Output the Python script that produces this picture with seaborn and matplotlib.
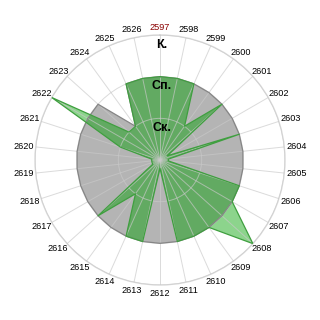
import numpy as np
import pandas as pd
import matplotlib
matplotlib.use('Agg')
import matplotlib.pyplot as plt
import seaborn as sns

categories = ['2597', '2598', '2599', '2600', '2601', '2602', '2603', '2604', '2605', '2606',
              '2607', '2608', '2609', '2610', '2611', '2612', '2613', '2614', '2615', '2616',
              '2617', '2618', '2619', '2620', '2621', '2622', '2623', '2624', '2625', '2626']
gray_values = [2, 2, 2, 2, 2, 2, 2, 2, 2, 2,
               2, 2, 2, 2, 2, 2, 2, 2, 2, 2,
               2, 2, 2, 2, 2, 2, 2, 1, 2, 2]
green_values = [2, 2, 2, 1, 2, 0.2, 2, 0.2, 0.2, 2,
                2, 3, 2, 2, 2, 0.2, 2, 2, 1, 2,
                0.2, 0.2, 0.2, 0.2, 1, 3, 1, 1, 2, 2]
radial_levels = [1, 2, 3]
radial_labels = ['Ск.', 'Сп.', 'К.']
highlight_category = '2597'

sns.set_theme(style='white')
plt.rcParams['font.family'] = ['Liberation Sans', 'DejaVu Sans']

PX = 0.72  # points per pixel at dpi 100

fig = plt.figure(figsize=(3.2, 3.2), dpi=100)
fig.patch.set_facecolor('white')
ax = fig.add_axes([35 / 320, 35 / 320, 250 / 320, 250 / 320], projection='polar')
ax.set_facecolor('white')
ax.set_theta_zero_location('N')
ax.set_theta_direction(-1)

n = len(categories)
theta = np.arange(n) * 2 * np.pi / n


def closed_frame(vals):
    return pd.DataFrame({'theta': np.r_[theta, theta[:1]],
                         'r': np.r_[np.asarray(vals, float), vals[:1]]})


gray_df = closed_frame(gray_values)
green_df = closed_frame(green_values)

ax.fill(gray_df['theta'], gray_df['r'], color='#b4b4b4', alpha=1.0, zorder=1, lw=0)
sns.lineplot(data=gray_df, x='theta', y='r', sort=False, estimator=None, ax=ax,
             color='#858585', lw=0.9, zorder=3)
ax.fill(green_df['theta'], green_df['r'], color='#00a000', alpha=0.45, zorder=1.5, lw=0)
sns.lineplot(data=green_df, x='theta', y='r', sort=False, estimator=None, ax=ax,
             color='#3f9f3f', lw=0.9, zorder=3.5)

ax.set_xlabel('')
ax.set_ylabel('')
ax.set_ylim(0, 3)
ax.set_yticks(radial_levels)
ax.set_yticklabels([])
ax.set_xticks(theta)
ax.set_xticklabels([])
ax.tick_params(length=0)
ax.set_axisbelow(False)
ax.grid(True, color='#c9c9c9', alpha=0.67, lw=0.7, zorder=2.5)
ax.spines['polar'].set_color('#d8d8d8')
ax.spines['polar'].set_linewidth(1.0)

for t, lab in zip(theta, categories):
    dx = 12 * np.sin(t) * PX
    dy = 8 * np.cos(t) * PX
    ax.annotate(lab, xy=(t, 3), xytext=(dx, dy), textcoords='offset points',
                ha='center', va='center', fontsize=6.6,
                color='#8b0000' if lab == highlight_category else 'black',
                annotation_clip=False)

for r, lab in zip(radial_levels, radial_labels):
    ax.annotate(lab, xy=(0, r), xytext=(2 * PX, -9.5 * PX), textcoords='offset points',
                ha='center', va='center', fontsize=9, fontweight='bold', color='black',
                zorder=5, annotation_clip=False)

fig.savefig('out.png', dpi=100, facecolor='white')
